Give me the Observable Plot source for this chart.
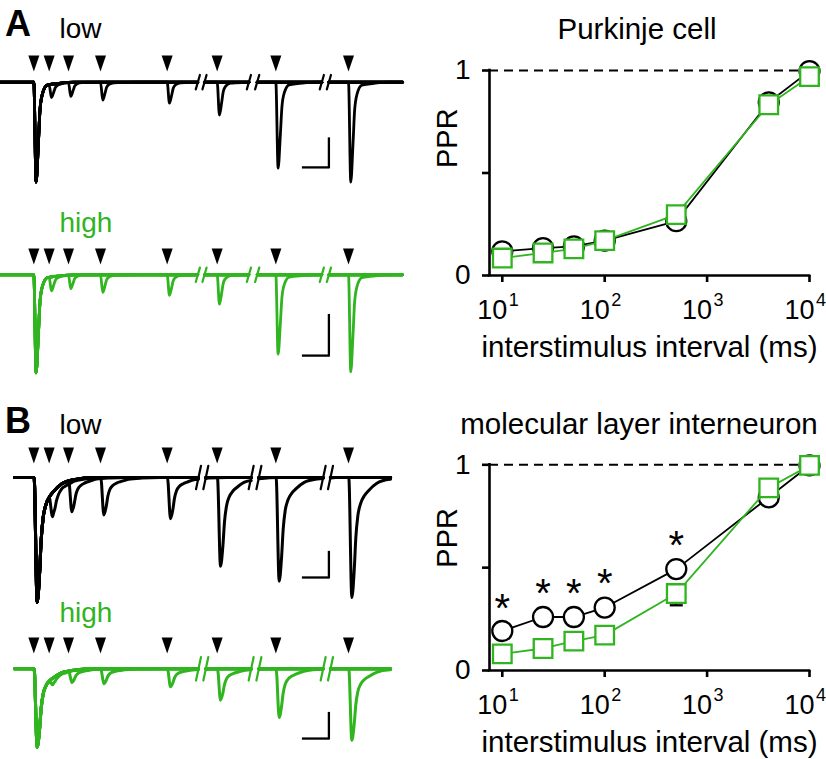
<!DOCTYPE html>
<html>
<head>
<meta charset="utf-8">
<script src="https://cdn.jsdelivr.net/npm/d3@7"></script>
<script src="https://cdn.jsdelivr.net/npm/@observablehq/plot@0.6"></script>
<style>
html, body { margin: 0; padding: 0; background: #fff; }
#fig { position: relative; width: 826px; height: 759px; overflow: hidden;
  font-family: "Liberation Sans", Arial, Helvetica, sans-serif; }
</style>
</head>
<body>
<div id="fig"></div>
<script>
// ---------------- DATA ----------------
// PPR vs interstimulus interval (ms)
const intervals = [10, 25, 50, 100, 500, 4000, 10000];
const pkjLow  = [0.118, 0.134, 0.142, 0.170, 0.265, 0.845, 0.997];
const pkjHigh = [0.085, 0.110, 0.130, 0.170, 0.297, 0.833, 0.970];
const mliLow  = [0.192, 0.260, 0.260, 0.306, 0.493, 0.842, 0.997];
const mliHigh = [0.081, 0.107, 0.143, 0.172, 0.374, 0.888, 0.997];
// visible error bar (MLI high, 500 ms)
const mliErrX = [500];
const mliErrLower = [0.317];
const mliErrUpper = [0.374];
// significance asterisks (MLI)
const sigX = [10, 25, 50, 100, 500];
const sigY = [0.346, 0.42, 0.42, 0.468, 0.655];
// axes
const xTickExp = [1, 2, 3, 4];
const yTicks = [0, 0.5, 1];
const yTickLabels = ["0", "", "1"];
const xAxisOrigin = 7.5;
const titles = ["Purkinje cell", "molecular layer interneuron"];
const xLabel = "interstimulus interval (ms)";
const yLabel = "PPR";
const panelLetters = ["A", "B"];
const condLabels = ["low", "high"];

// Example traces: stimulus times on the broken display time axis (ms)
const stimTimes = [0, 11.5, 26, 50, 100, 137.5, 181.5, 236];
const segA = [[-25, 123], [128, 161.3], [167.5, 216], [221.3, 276.5]];
const segB = [[-14.5, 123.5], [129, 163], [168.8, 217], [222.5, 267.5]];
// EPSC waveform shapes read from the first response (time after stimulus, fraction of peak)
const tmplPkjT = [0, 1.7, 3.4, 4.6, 6.4, 10, 20, 30];
const tmplPkjF = [0, 1, 0.61, 0.28, 0.12, 0.03, 0.01, 0];
const tmplMliT = [0.2, 2.5, 4.3, 5.5, 7, 9, 12, 15, 21, 31, 45];
const tmplMliF = [0, 1, 0.77, 0.5, 0.32, 0.22, 0.15, 0.11, 0.05, 0.015, 0];
// response amplitudes relative to the first EPSC
const ampPkjLow  = [1, 0.13, 0.14, 0.18, 0.21, 0.33, 0.86, 1.00];
const ampPkjHigh = [1, 0.14, 0.14, 0.18, 0.21, 0.30, 0.81, 0.99];
const ampMliLow  = [1, 0.19, 0.25, 0.30, 0.33, 0.71, 0.83, 0.96];
const ampMliHigh = [1, 0.08, 0.15, 0.19, 0.23, 0.40, 0.62, 0.91];
// first EPSC size in scale-bar units
const firstPkjLow = 3.52, firstPkjHigh = 2.45, firstMliLow = 5.0, firstMliHigh = 3.14;
// scale bars: corner position (display ms, units) ; bar size
const scaleBarMs = 19, scaleBarUnits = 1;
const sbPkjLow = [{t: 221.3, v: -3.0}];
const sbPkjHigh = [{t: 221.3, v: -2.02}];
const sbMliLow = [{t: 221.3, v: -4.0}];
const sbMliHigh = [{t: 221.3, v: -2.79}];
const traceDomain = [-25, 282.5];

// ---------------- STYLE ----------------
const GREEN = "#30b41f";
const FONT = '"Liberation Sans", Arial, Helvetica, sans-serif';
const fig = document.getElementById("fig");
function place(el, left, top) {
  el.style.position = "absolute";
  el.style.left = left + "px";
  el.style.top = top + "px";
  el.style.background = "transparent";
  el.style.overflow = "visible";
  el.style.maxWidth = "none";
  fig.appendChild(el);
}
const triDown = {draw(ctx, size) {
  const r = Math.sqrt(size / Math.PI), w = r * 1.1, h = r * 1.6;
  ctx.moveTo(-w, -h); ctx.lineTo(w, -h); ctx.lineTo(0, h); ctx.closePath();
}};
const hline = {draw(ctx, size) {
  const r = Math.sqrt(size / Math.PI);
  ctx.moveTo(-r * 1.3, 0); ctx.lineTo(r * 1.3, 0);
}};
const slash = {draw(ctx, l) { ctx.moveTo(0, 0); ctx.lineTo(0, -l); }};

// ---------------- TRACES ----------------
function tracePlot(o) {
  const T = d3.scaleLinear().domain(o.tmplT).range(o.tmplF).clamp(true);
  const pts = [];
  for (let k = 1; k < stimTimes.length; k++) {
    o.segs.forEach(([a, b], si) => {
      const ts = new Set([a, b]);
      [0, k].forEach(j => o.tmplT.forEach(dt => {
        const t = stimTimes[j] + dt;
        if (t > a && t < b) ts.add(t);
      }));
      Array.from(ts).sort((p, q) => p - q).forEach(t => pts.push({
        t, id: k * 10 + si,
        v: -o.firstAmp * (o.amps[0] * T(t - stimTimes[0]) + o.amps[k] * T(t - stimTimes[k]))
      }));
    });
  }
  const above = o.baseline - o.top;
  const breaks = o.segs.slice(0, -1).map(s => s[1]).concat(o.segs.slice(1).map(s => s[0]));
  return Plot.plot({
    width: 410, height: o.height,
    marginLeft: 0, marginRight: 0, marginTop: 0, marginBottom: 0,
    style: {fontFamily: FONT, background: "transparent", overflow: "visible"},
    x: {domain: traceDomain, axis: null},
    y: {domain: [-(o.height - above) / o.unit, above / o.unit], axis: null},
    marks: [
      Plot.line(pts, {x: "t", y: "v", z: "id", stroke: o.color, strokeWidth: o.lw, curve: "monotone-x",
        strokeLinejoin: "round", strokeLinecap: "round"}),
      Plot.vector(breaks, {x: d => d, y: () => 0, length: o.slashLen, rotate: o.slashRot, anchor: "middle",
        shape: slash, stroke: o.color, strokeWidth: 2.2}),
      Plot.dot(stimTimes, {x: d => d, frameAnchor: "top", dy: 8, r: 5, symbol: triDown, fill: "black", stroke: "none"}),
      Plot.ruleX(o.sb, {x: "t", y1: "v", y2: d => d.v + scaleBarUnits, stroke: "black", strokeWidth: 2.3, strokeLinecap: "square"}),
      Plot.ruleY(o.sb, {y: "v", x1: d => d.t - scaleBarMs, x2: "t", stroke: "black", strokeWidth: 2.3, strokeLinecap: "square"})
    ]
  });
}

place(tracePlot({amps: ampPkjLow, firstAmp: firstPkjLow, tmplT: tmplPkjT, tmplF: tmplPkjF, segs: segA,
  color: "black", lw: 2.8, top: 55, baseline: 81.7, unit: 28.4, height: 135, sb: sbPkjLow, slashLen: 15, slashRot: 16}), 0, 55);
place(tracePlot({amps: ampPkjHigh, firstAmp: firstPkjHigh, tmplT: tmplPkjT, tmplF: tmplPkjF, segs: segA,
  color: GREEN, lw: 2.8, top: 248, baseline: 274.3, unit: 40, height: 135, sb: sbPkjHigh, slashLen: 15, slashRot: 16}), 0, 248);
place(tracePlot({amps: ampMliLow, firstAmp: firstMliLow, tmplT: tmplMliT, tmplF: tmplMliF, segs: segB,
  color: "black", lw: 3, top: 446.5, baseline: 476.5, unit: 25, height: 165, sb: sbMliLow, slashLen: 24, slashRot: 12}), 0, 446.5);
place(tracePlot({amps: ampMliHigh, firstAmp: firstMliHigh, tmplT: tmplMliT, tmplF: tmplMliF, segs: segB,
  color: GREEN, lw: 3, top: 637, baseline: 668.3, unit: 25, height: 120, sb: sbMliHigh, slashLen: 24, slashRot: 12}), 0, 637);

// ---------------- PPR PLOTS ----------------
function pprPlot(o) {
  const low = intervals.map((x, i) => ({x, y: o.low[i]}));
  const high = intervals.map((x, i) => ({x, y: o.high[i]}));
  const err = o.errX.map((x, i) => ({x, lo: o.errLo[i], hi: o.errHi[i]}));
  const sig = o.sigX.map((x, i) => ({x, y: o.sigY[i]}));
  return Plot.plot({
    width: 416, height: o.height,
    marginLeft: 79, marginRight: 17, marginTop: o.marginTop, marginBottom: o.marginBottom,
    style: {fontFamily: FONT, background: "transparent", overflow: "visible"},
    x: {type: "log", domain: [xAxisOrigin, 1e4], axis: null},
    y: {domain: [0, 1], axis: null},
    marks: [
      Plot.ruleY([1], {stroke: "black", strokeWidth: 2, strokeDasharray: "9,6"}),
      Plot.axisY(yTicks, {anchor: "left", tickSize: 7, tickPadding: 12, strokeWidth: 2.6, fontSize: 28,
        tickFormat: d => yTickLabels[yTicks.indexOf(d)], label: null}),
      Plot.ruleX([xAxisOrigin], {stroke: "black", strokeWidth: 2.6, strokeLinecap: "square"}),
      Plot.ruleY([0], {stroke: "black", strokeWidth: 2.6, strokeLinecap: "square"}),
      Plot.axisX(xTickExp.map(e => 10 ** e), {anchor: "bottom", tickSize: 7, strokeWidth: 2.6, tickFormat: () => "", label: null}),
      Plot.text(xTickExp, {x: e => 10 ** e, text: () => "10", frameAnchor: "bottom", textAnchor: "end",
        lineAnchor: "bottom", dx: 5, dy: 43.5, fontSize: 27}),
      Plot.text(xTickExp, {x: e => 10 ** e, text: e => String(e), frameAnchor: "bottom", textAnchor: "start",
        lineAnchor: "bottom", dx: 6.5, dy: 30, fontSize: 18}),
      Plot.text([o.title], {frameAnchor: "top", lineAnchor: "bottom", dx: o.titleDx, dy: o.titleDy, fontSize: 29.5}),
      Plot.text([xLabel], {frameAnchor: "bottom", lineAnchor: "bottom", dx: 0, dy: 81, fontSize: 29.5}),
      Plot.text([yLabel], {frameAnchor: "left", rotate: -90, dx: -42, dy: o.pprDy, fontSize: 29}),
      Plot.ruleX(err, {x: "x", y1: "lo", y2: "hi", stroke: "black", strokeWidth: 2}),
      Plot.dot(err, {x: "x", y: "lo", r: 5, symbol: hline, fill: "none", stroke: "black", strokeWidth: 2.3}),
      Plot.line(low, {x: "x", y: "y", stroke: "black", strokeWidth: 1.8}),
      Plot.dot(low, {x: "x", y: "y", r: 10, fill: "white", stroke: "black", strokeWidth: 2.3}),
      Plot.line(high, {x: "x", y: "y", stroke: GREEN, strokeWidth: 1.8}),
      Plot.dot(high, {x: "x", y: "y", r: 10.5, symbol: "square", fill: "white", stroke: GREEN, strokeWidth: 2.3}),
      Plot.text(sig, {x: "x", y: "y", text: () => "*", lineAnchor: "bottom", dy: 23, fontSize: 40})
    ]
  });
}

place(pprPlot({low: pkjLow, high: pkjHigh, errX: [], errLo: [], errHi: [], sigX: [], sigY: [],
  title: titles[0], height: 370, marginTop: 70, marginBottom: 95, titleDx: -12.5, titleDy: -32, pprDy: -5}), 410, 0);
place(pprPlot({low: mliLow, high: mliHigh, errX: mliErrX, errLo: mliErrLower, errHi: mliErrUpper, sigX, sigY,
  title: titles[1], height: 379, marginTop: 84.3, marginBottom: 89, titleDx: -10.5, titleDy: -31, pprDy: 0}), 410, 380);

// ---------------- PANEL LABELS ----------------
const lab = d3.create("svg").attr("width", 826).attr("height", 759)
  .style("font-family", FONT);
const letterPos = [{x: 5, y: 35.7}, {x: 5, y: 433.3}];
const condPos = [[{x: 59.5, y: 37.7}, {x: 59.5, y: 232.3}], [{x: 59.5, y: 434}, {x: 59.5, y: 622.3}]];
panelLetters.forEach((L, i) => {
  lab.append("text").attr("x", letterPos[i].x).attr("y", letterPos[i].y)
    .attr("font-size", 36).attr("font-weight", "bold").text(L);
  condLabels.forEach((c, j) => {
    lab.append("text").attr("x", condPos[i][j].x).attr("y", condPos[i][j].y)
      .attr("font-size", 28).attr("fill", j === 1 ? GREEN : "black").text(c);
  });
});
place(lab.node(), 0, 0);
</script>
</body>
</html>
